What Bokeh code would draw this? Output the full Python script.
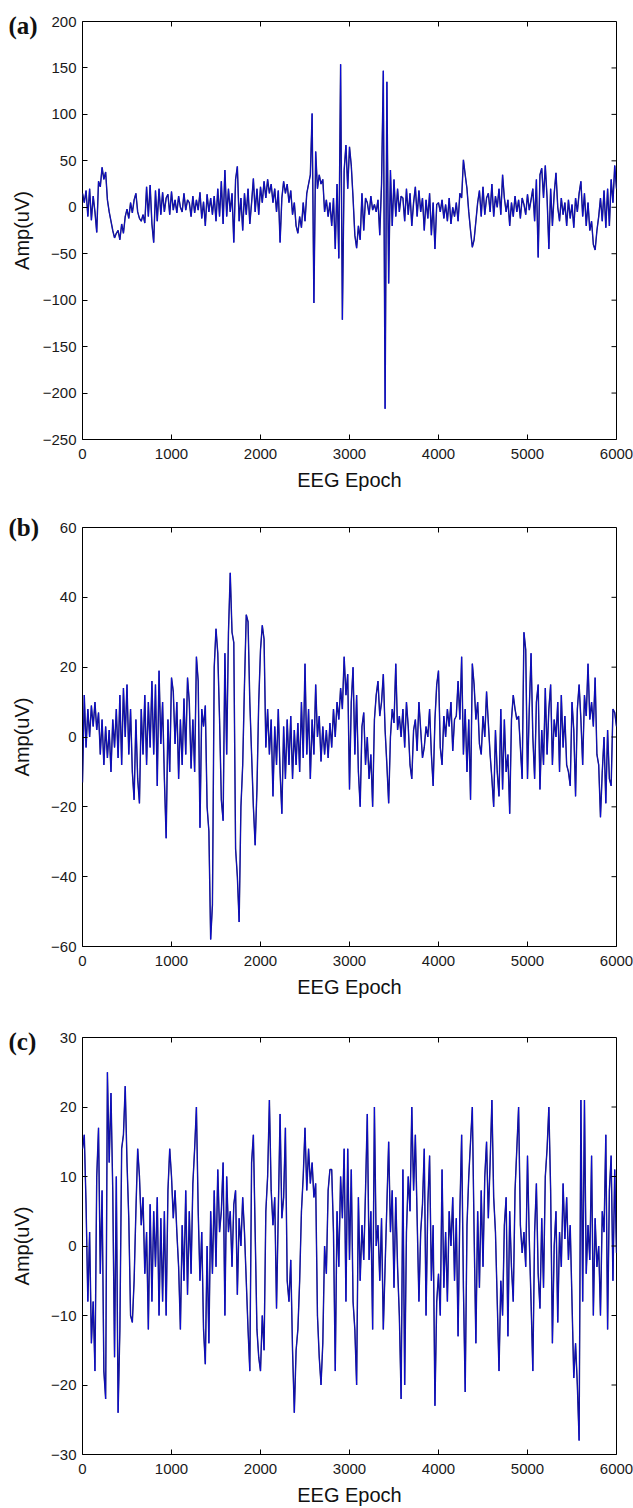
import math
from bokeh.plotting import figure
from bokeh.layouts import column
from bokeh.models import Range1d, FixedTicker, ColumnDataSource
from bokeh.embed import file_html
from bokeh.resources import INLINE

# ---------------- data (one sample every 20 epochs) ----------------
epoch = list(range(0, 6001, 20))

amp_a = [
    15, 5, 18, -10, 20, -14, 12, -5, -27, 28, 22, 43, 30, 38, 8, -5, -15, -25, -33, -28,
    -25, -35, -18, -28, -10, -2, -12, 5, -6, 8, 15, -5, -12, -15, -8, -17, 22, -10, 24, -18,
    -38, 18, -15, 20, -8, 16, -5, 10, 14, -8, 17, -3, 8, -6, 12, 0, -5, 15, -3, 8,
    5, -10, 12, -6, 8, -3, 16, -12, 6, -20, 14, -5, 10, -8, 12, -15, 20, -10, 28, -18,
    40, -10, 20, -5, 15, -38, 30, 44, -15, 10, -25, 15, -8, 20, -18, 5, 31, -5, 20, -8,
    22, 5, 28, 10, 30, 15, 25, 5, 20, -5, 18, -38, 10, 28, 15, 25, 5, 18, -8, 5,
    -20, -28, -10, -22, 5, -15, 15, 25, 35, 101, -103, 60, 20, 35, 25, 30, -5, 8, -10, 5,
    -20, 10, -45, 25, -55, 154, -121, 40, 67, 20, 65, 45, 10, -30, -44, -20, -35, 15, -25, 10,
    5, -8, 12, -3, 3, -5, 8, -30, 25, 147, -217, 135, -82, 40, -20, 30, -10, 20, -5, 12,
    10, -15, 20, -8, 15, -20, 5, 22, -10, 18, -5, 10, -25, 8, -12, 15, -30, 5, -45, 3,
    5, -5, 8, -12, 3, -15, 10, -18, 0, -10, 5, -15, 15, 10, 51, 35, 20, -5, -25, -43,
    -35, -15, 5, 18, -10, 22, -8, 10, 15, -5, 25, -10, 12, 0, 20, -8, 35, 10, -5, 8,
    -20, 5, -10, 12, -5, 8, -12, 10, 3, -8, 14, -3, 8, 20, -15, 30, -54, 35, 42, 10,
    45, 10, -45, 20, -20, 15, 37, 0, -15, 10, -8, 5, -20, 8, -12, 3, -22, 10, -5, 15,
    28, -10, 15, -20, 5, -25, -15, -40, -46, -25, -10, 10, -15, 18, -22, 20, -20, 30, 5, 45,
    20,
]

amp_b = [
    -13, 12, -3, 8, 0, 9, 3, 10, 2, 7, -5, 5, -8, 3, -6, 2, -10, 5, -3, 8,
    -6, 12, -8, 14, 0, 15, -5, 8, -10, -18, 5, -12, -19, 8, -5, 12, -8, 10, -3, 16,
    -5, 15, -14, 19, -2, 10, -12, -29, 5, -10, 17, 13, -2, 10, -12, 5, -8, 11, -5, 17,
    10, -9, 5, -10, 23, 16, -26, 8, 3, 9, -20, -27, -58, -48, 20, 31, 24, 5, -18, -24,
    24, -5, 30, 47, 30, 27, -32, -40, -53, -20, -8, 15, 35, 33, 10, -5, -20, -31, -15, 10,
    25, 32, 28, -3, 8, -5, 5, -17, 3, -8, 8, -10, -22, 3, -12, 5, -8, 6, -12, 2,
    -8, 4, -10, 10, -6, 21, -5, 8, -12, 5, -5, 15, 0, 6, -7, 3, -5, 2, -6, 4,
    -3, 8, 0, 10, 5, 14, 8, 23, 12, 18, -15, 10, 20, -5, 12, -10, -20, 3, 7, -8,
    0, -12, -5, -20, 5, 12, 16, 6, 10, 18, 2, -8, -19, 0, 8, 4, 21, 2, 6, 0,
    8, -3, 10, 3, -8, -12, 2, 5, -4, 10, 2, -6, -3, 3, 0, 8, -5, -14, 5, 15,
    19, -3, -8, 6, 0, 8, 3, 10, -4, 5, 6, 16, 5, 23, -5, 8, -10, 5, -18, 21,
    15, 5, 10, -2, -5, 6, 0, 13, 4, -5, -12, -20, 2, -10, -17, 8, -15, 5, -10, -5,
    -22, 5, 12, 8, 5, 6, -3, -12, 30, 25, -12, 8, 24, 0, -12, 10, 15, -15, 2, -8,
    14, -5, 8, 15, -8, 5, 0, 10, -10, 12, -3, 6, -8, -10, -14, 10, 2, -17, 8, 15,
    5, -8, 12, 6, 21, 5, 10, 3, 17, -5, -8, -23, -10, 0, -19, 2, -12, -14, 8, 7,
    3,
]

amp_c = [
    14, 16, 6, -8, 2, -14, -8, -18, 10, 17, -4, 8, -18, -22, 25, 12, 22, 8, -16, 10,
    -24, -12, 14, 16, 23, 12, 4, -10, -11, -5, 5, 14, 10, 3, 7, -4, 2, -12, 6, -8,
    5, -3, 7, -10, 4, -8, 5, -10, 8, 14, 10, 4, 8, 2, -3, -12, 3, -5, 8, -7,
    5, -4, 9, 14, 20, 5, -5, 2, -12, -17, 0, -14, 5, -4, 8, -3, 11, 2, 5, 12,
    -10, 10, 2, 5, -3, 6, 8, -7, 4, 0, 7, 2, -5, -12, -18, 12, 16, 2, -12, -16,
    -18, -10, -15, 5, 10, 21, 8, 3, 7, -9, 5, 19, 4, 7, 17, -5, -8, -2, -15, -24,
    -15, -12, -5, 5, 10, 17, 8, 14, 9, 12, 7, 9, -10, -16, -20, -14, 0, -4, 8, 11,
    11, 2, -18, 5, -3, 10, 4, 14, -8, 14, -2, 11, -8, -12, -20, 7, -5, 3, -2, 8,
    19, -2, 5, -12, 20, 0, 3, -5, 4, -12, -3, 6, 15, 2, 8, -6, 7, -3, -10, -22,
    11, -20, 2, 10, 5, 20, 8, 16, 4, -8, 2, 6, 14, -10, 6, 13, -5, 3, -23, -8,
    -4, -10, 11, -6, 2, -8, 5, 0, 7, -5, 4, -13, 5, 16, -6, -21, 3, 10, 15, 20,
    2, -14, 5, -6, 8, -3, 10, 15, 4, 12, 21, 7, 2, -8, -18, -5, -10, 3, 7, -13,
    5, -3, -8, 8, 14, 20, 3, -1, 2, -3, 13, 1, -8, -18, 2, 9, -4, -9, 4, -6,
    10, 14, 20, 8, -14, 0, 5, -11, 2, -3, 9, 1, 7, -2, 3, -8, -19, -14, -20, -28,
    21, -8, 21, -4, 3, -2, 13, -10, 4, -3, 0, -10, 5, 2, 16, -12, 8, 13, -5, 11,
    -1,
]

x_ticks = [0, 1000, 2000, 3000, 4000, 5000, 6000]
y_ticks_a = [-250, -200, -150, -100, -50, 0, 50, 100, 150, 200]
y_ticks_b = [-60, -40, -20, 0, 20, 40, 60]
y_ticks_c = [-30, -20, -10, 0, 10, 20, 30]
panel_tags = ["(a)", "(b)", "(c)"]
x_label = "EEG Epoch"
y_label = "Amp(uV)"

FONT = "Liberation Sans"


def make_panel(vals, yticks, tag, height, b_top, b_bottom, ylab_standoff, tag_standoff):
    p = figure(width=633, height=height,
               x_range=Range1d(x_ticks[0], x_ticks[-1]),
               y_range=Range1d(yticks[0], yticks[-1]),
               output_backend="svg", toolbar_location=None,
               min_border_left=82, min_border_right=17,
               min_border_top=b_top, min_border_bottom=b_bottom)
    p.grid.visible = False
    p.outline_line_color = "black"
    p.outline_line_alpha = 1
    p.outline_line_width = 1
    p.background_fill_color = "white"
    p.border_fill_color = "white"

    src = ColumnDataSource(dict(x=epoch, y=vals))
    p.line("x", "y", source=src, line_color="#1a1a50", line_width=1.4)
    p.line("x", "y", source=src, line_color="#0a0af0", line_width=0.7)

    p.xaxis.ticker = FixedTicker(ticks=x_ticks, minor_ticks=[])
    p.yaxis.ticker = FixedTicker(ticks=yticks, minor_ticks=[])
    p.xaxis.axis_label = x_label
    p.yaxis.axis_label = y_label
    for ax in (p.xaxis[0], p.yaxis[0]):
        ax.axis_line_color = None
        ax.major_tick_in = 5
        ax.major_tick_out = 0
        ax.major_tick_line_color = "black"
        ax.minor_tick_line_color = None
        ax.major_label_text_font = FONT
        ax.major_label_text_font_size = "15px"
        ax.major_label_text_color = "#1a1a1a"
        ax.axis_label_text_font = FONT
        ax.axis_label_text_font_size = "20px"
        ax.axis_label_text_font_style = "normal"
        ax.axis_label_text_color = "#111111"
    p.yaxis[0].major_label_standoff = 6
    p.yaxis[0].axis_label_standoff = ylab_standoff
    p.xaxis[0].major_label_standoff = 9
    p.xaxis[0].axis_label_standoff = 7

    # mirrored (box) ticks on the right and top edges, drawn from the tick lists
    p.ray(x=[x_ticks[-1]] * len(yticks), y=yticks, length=5, length_units="screen",
          angle=math.pi, line_color="black", line_width=1)
    p.ray(x=x_ticks, y=[yticks[-1]] * len(x_ticks), length=5, length_units="screen",
          angle=-math.pi / 2, line_color="black", line_width=1)

    # panel tag "(a)" / "(b)" / "(c)" as a left-aligned title pulled into the margin
    p.title.text = tag
    p.title.text_font = "Liberation Serif"
    p.title.text_font_style = "bold"
    p.title.text_font_size = "25px"
    p.title.text_color = "#111111"
    p.title.align = "left"
    p.title.offset = -74
    p.title.standoff = tag_standoff
    return p


pa = make_panel(amp_a, y_ticks_a, panel_tags[0], 500, 21, 61, 7, -34)
pb = make_panel(amp_b, y_ticks_b, panel_tags[1], 500, 27, 54, 15, -26)
pc = make_panel(amp_c, y_ticks_c, panel_tags[2], 508, 37, 53, 15, -34)

layout = column(pa, pb, pc, spacing=0)
open("out.html", "w").write(file_html(layout, INLINE))
